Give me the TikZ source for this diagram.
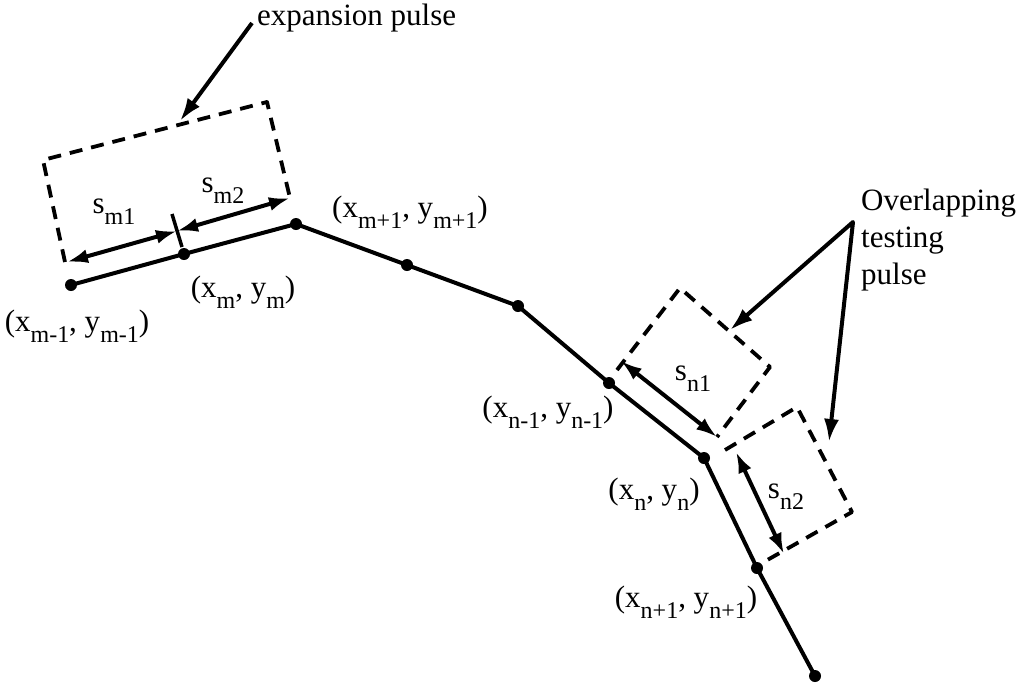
\documentclass[tikz,border=0pt]{standalone}
\usepackage{fontspec}
\setmainfont{Liberation Serif}
\usetikzlibrary{arrows.meta}
\newcommand{\lowsub}[2][0.36em]{\raisebox{-#1}{\fontsize{24}{24}\selectfont #2}}

\begin{document}
\begin{tikzpicture}[x=1pt, y=-1pt, line join=round,
  every node/.style={font=\fontsize{31}{37}\selectfont, inner sep=0pt},
  curve/.style={line width=4pt},
  pulse/.style={line width=3.8pt, dash pattern=on 13pt off 9pt},
  dimarrow/.style={line width=4pt, {Latex[length=21pt,width=14pt]}-{Latex[length=21pt,width=14pt]}},
  pointer/.style={line width=4pt, -{Latex[length=23pt,width=15pt]}},
  vertex/.style={circle, fill=black, minimum size=12pt, inner sep=0pt}]
  \useasboundingbox (0,0) rectangle (1028,683);

  % Points of the curve
  \foreach \n/\x/\y in {p0/71/285, p1/184/254, p2/296/224, p3/407/265, p4/518/306,
                        p5/609/383, p6/704/458, p7/757/568, p8/815/676} {
    \node[vertex] (\n) at (\x,\y) {};
  }
  \draw[curve] (p0.center) -- (p1.center) -- (p2.center) -- (p3.center) -- (p4.center)
    -- (p5.center) -- (p6.center) -- (p7.center) -- (p8.center);

  % Point labels
  \node (lm0) at (77,326) {(x\lowsub{m-1}, y\lowsub{m-1})};
  \node (lm1) at (243,292) {(x\lowsub{m}, y\lowsub{m})};
  \node (lm2) at (410,212) {(x\lowsub{m+1}, y\lowsub{m+1})};
  \node (ln0) at (548,412) {(x\lowsub{n-1}, y\lowsub{n-1})};
  \node (ln1) at (654,494) {(x\lowsub{n}, y\lowsub{n})};
  \node (ln2) at (686,602) {(x\lowsub{n+1}, y\lowsub{n+1})};

  % Expansion pulse
  \draw[pulse] (65,262) -- (43,160) -- (267,102) -- (290,198);
  \coordinate (sm0) at (67,262);
  \coordinate (smk) at (177,231);
  \coordinate (sm1) at (290,198);
  \draw[dimarrow] (sm0) -- (smk);
  \draw[dimarrow] (smk) -- (sm1);
  \draw[line width=3.5pt] (172,214) -- (182,247);
  \node (lsm1) at (114,212) {s\lowsub{m1}};
  \node (lsm2) at (223,191) {s\lowsub{m2}};

  % Testing pulses
  \draw[pulse] (617,370) -- (680,288) -- (770,367) -- (717,437);
  \draw[pulse] (725,450) -- (797,407) -- (852,512) -- (762,563);
  \coordinate (sn0) at (621,361);
  \coordinate (sn1) at (717,437);
  \coordinate (sn2) at (736,452);
  \coordinate (sn3) at (784,554);
  \draw[dimarrow] (sn0) -- (sn1);
  \draw[dimarrow] (sn2) -- (sn3);
  \node (lsn1) at (693,379) {s\lowsub{n1}};
  \node (lsn2) at (786,497) {s\lowsub{n2}};

  % Callouts
  \node[anchor=west] (lexp) at (257,18) {expansion pulse};
  \coordinate (expFrom) at (252,23);
  \coordinate (expTip) at (180,121);
  \draw[pointer] (expFrom) -- (expTip);

  \node[anchor=north west, align=left] (lov) at (861,189) {Overlapping\\testing\\pulse};
  \coordinate (ovFrom) at (853,222);
  \coordinate (ovTipA) at (730,330);
  \coordinate (ovTipB) at (829,442);
  \draw[line width=4pt, {Latex[length=23pt,width=15pt]}-{Latex[length=23pt,width=15pt]}]
    (ovTipA) -- (ovFrom) -- (ovTipB);
\end{tikzpicture}
\end{document}
